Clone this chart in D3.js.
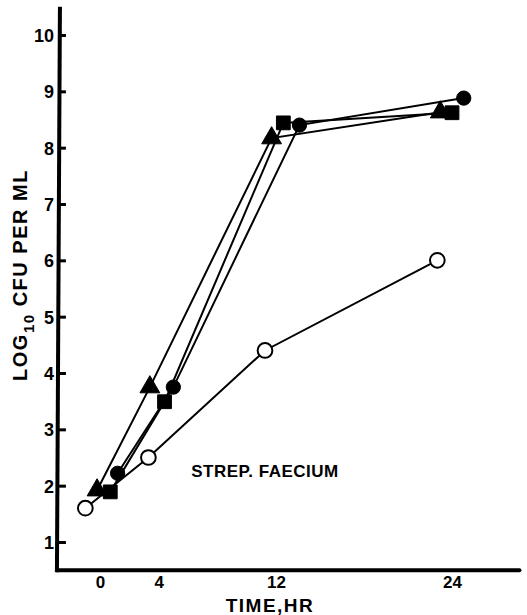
<!DOCTYPE html>
<html>
<head>
<meta charset="utf-8">
<script src="https://cdn.jsdelivr.net/npm/d3@7"></script>
<style>
  body { margin: 0; background: #fff; }
  text { font-family: "Liberation Sans Narrow", "Liberation Sans", Arial, sans-serif; font-weight: bold; fill: #000; }
</style>
</head>
<body>
<script>
// chart values
const xTicks = [0, 4, 12, 24];
const yTicks = [1, 2, 3, 4, 5, 6, 7, 8, 9, 10];

const openTimes = [-1.0, 3.3, 11.25, 23.0];
const openVals = [1.6, 2.5, 4.4, 6.0];
const triTimes = [-0.2, 3.4, 11.7, 23.2];
const triVals = [1.92, 3.75, 8.17, 8.63];
const sqTimes = [0.7, 4.4, 12.5, 24.0];
const sqVals = [1.89, 3.49, 8.44, 8.62];
const dotTimes = [1.2, 5.0, 13.6, 24.8];
const dotVals = [2.22, 3.75, 8.40, 8.88];

const width = 527, height = 615;

const svg = d3.select("body").append("svg")
    .attr("width", width)
    .attr("height", height);

// scales
const x = d3.scaleLinear().domain([0, 24]).range([100, 452]);
const y = d3.scaleLinear().domain([1, 10]).range([542, 35]);

const axisX = x(-2.8);
const axisY = y(0.5);

// y axis
svg.append("g")
    .attr("transform", `translate(${axisX},0)`)
    .call(d3.axisLeft(y).tickValues(yTicks).tickSizeInner(-7).tickSizeOuter(0).tickPadding(5))
    .call(g => g.select(".domain").remove())
    .call(g => g.selectAll(".tick line").attr("stroke", "#000").attr("stroke-width", 3))
    .call(g => g.selectAll(".tick text").style("font-size", "18px").attr("dy", "0.36em"));

svg.append("line")
    .attr("x1", axisX + 1).attr("x2", axisX - 2)
    .attr("y1", y(10.5)).attr("y2", axisY + 2)
    .attr("stroke", "#000").attr("stroke-width", 4);

// x axis
svg.append("g")
    .attr("transform", `translate(0,${axisY})`)
    .call(d3.axisBottom(x).tickValues(xTicks).tickSize(0).tickPadding(6))
    .call(g => g.select(".domain").remove())
    .call(g => g.selectAll(".tick text").style("font-size", "17px"));

svg.append("line")
    .attr("x1", axisX - 2).attr("x2", x(28.6))
    .attr("y1", axisY).attr("y2", axisY)
    .attr("stroke", "#000").attr("stroke-width", 4)
    .attr("stroke-linecap", "round");

// axis titles
svg.append("text")
    .attr("x", 270).attr("y", 612)
    .attr("text-anchor", "middle")
    .style("font-size", "19px")
    .style("letter-spacing", "1.5px")
    .text("TIME,HR");

const ylab = svg.append("text")
    .attr("transform", "translate(27,275) rotate(-90)")
    .attr("text-anchor", "middle")
    .style("font-size", "20px")
    .style("letter-spacing", "1.5px");
ylab.append("tspan").text("LOG");
ylab.append("tspan").attr("dy", 7).style("font-size", "15px").text("10");
ylab.append("tspan").attr("dy", -7).text(" CFU PER ML");

// annotation
svg.append("text")
    .attr("x", 265).attr("y", 477)
    .attr("text-anchor", "middle")
    .style("font-size", "17px")
    .style("letter-spacing", "0.5px")
    .text("STREP. FAECIUM");

// series
const series = [
    { t: openTimes, v: openVals, shape: "openCircle" },
    { t: triTimes, v: triVals, shape: "triangle" },
    { t: sqTimes, v: sqVals, shape: "square" },
    { t: dotTimes, v: dotVals, shape: "circle" }
];

const line = d3.line()
    .x(d => x(d[0]))
    .y(d => y(d[1]));

series.forEach(s => {
    s.pts = s.t.map((t, i) => [t, s.v[i]]);
    svg.append("path")
        .datum(s.pts)
        .attr("fill", "none")
        .attr("stroke", "#000")
        .attr("stroke-width", 2)
        .attr("d", line);
});

const symbols = {
    openCircle: d3.symbol().type(d3.symbolCircle).size(170),
    circle: d3.symbol().type(d3.symbolCircle).size(160),
    square: d3.symbol().type(d3.symbolSquare).size(190),
    triangle: d3.symbol().type(d3.symbolTriangle).size(170)
};

series.forEach(s => {
    svg.append("g").selectAll("path")
        .data(s.pts)
        .join("path")
        .attr("transform", d => `translate(${x(d[0])},${y(d[1])})`)
        .attr("d", symbols[s.shape])
        .attr("fill", s.shape === "openCircle" ? "#fff" : "#000")
        .attr("stroke", "#000")
        .attr("stroke-width", s.shape === "openCircle" ? 2 : 1);
});
</script>
</body>
</html>
